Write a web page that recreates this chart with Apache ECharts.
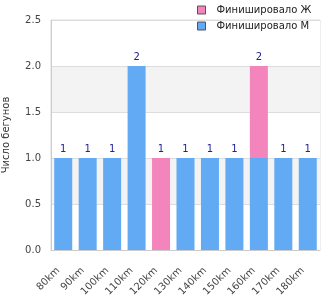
<!DOCTYPE html>
<html><head><meta charset="utf-8">
<script src="https://cdn.jsdelivr.net/npm/echarts@6/dist/echarts.min.js"></script>
<style>html,body{margin:0;padding:0;background:#fff}#c{width:330px;height:300px}</style>
</head><body><div id="c"></div>
<script>
const categories = ['80km','90km','100km','110km','120km','130km','140km','150km','160km','170km','180km'];
const male = [1,1,1,2,0,1,1,1,1,1,1];
const female = [0,0,0,0,1,0,0,0,1,0,0];
const yTicks = [0, 0.5, 1, 1.5, 2, 2.5];
const totals = categories.map((c,i)=>male[i]+female[i]);

const chart = echarts.init(document.getElementById('c'));
const font = 'DejaVu Sans';
const lbl = (isTop) => ({
  show: true, position: 'top', color: '#22229a', fontSize: 10, fontFamily: font, distance: 4,
  formatter: p => isTop(p.dataIndex) ? String(totals[p.dataIndex]) : ''
});
chart.setOption({
  animation: false,
  textStyle: {fontFamily: font},
  legend: {
    data: ['Финишировало Ж','Финишировало М'],
    orient: 'vertical', left: 192, top: 0, itemWidth: 8, itemHeight: 8, itemGap: 6,
    icon: 'rect',
    itemStyle: {borderColor: '#555', borderWidth: 1},
    textStyle: {fontSize: 10, color: '#222', fontFamily: font, padding: [0,0,0,6]}
  },
  grid: {left: 51, right: 10, top: 20, bottom: 50, outerBoundsMode: 'none',
         show: true, borderColor: '#ddd', borderWidth: 1, backgroundColor: 'transparent'},
  xAxis: {
    type: 'category', data: categories,
    axisLine: {lineStyle: {color: '#ccc', width: 1}},
    axisTick: {show: false},
    axisLabel: {rotate: 45, color: '#444', fontSize: 10, fontFamily: font, margin: 14, padding: [0, 7, 0, 0]}
  },
  yAxis: {
    type: 'value', min: 0, max: 2.5, interval: 0.5,
    name: 'Число бегунов', nameLocation: 'middle', nameGap: 40,
    nameTextStyle: {color: '#333', fontSize: 10, fontFamily: font},
    axisLine: {show: true, lineStyle: {color: '#ccc'}},
    axisTick: {show: false},
    axisLabel: {color: '#444', fontSize: 10, fontFamily: font, margin: 10, formatter: v => v.toFixed(1)},
    splitLine: {lineStyle: {color: '#ddd'}},
    splitArea: {show: true, areaStyle: {color: ['#ffffff', '#f3f3f3']}}
  },
  series: [
    {name: 'Финишировало М', type: 'bar', stack: 's', data: male, barWidth: 18,
     itemStyle: {color: '#62aaf4'}, label: lbl(i => female[i] === 0)},
    {name: 'Финишировало Ж', type: 'bar', stack: 's', data: female, barWidth: 18,
     itemStyle: {color: '#f384bc'}, label: lbl(i => female[i] > 0)}
  ]
});
</script></body></html>
